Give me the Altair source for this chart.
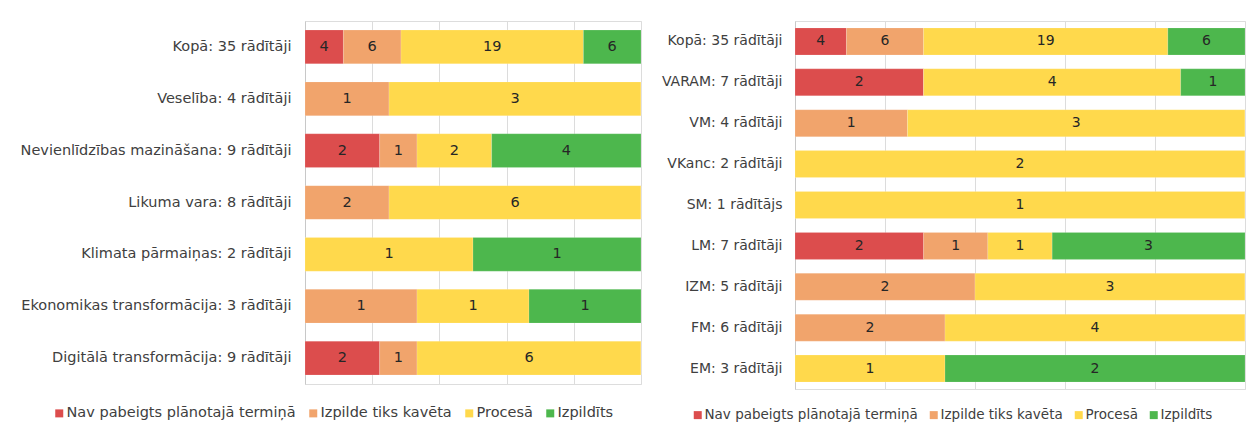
import altair as alt
import pandas as pd

statuses = ["Nav pabeigts plānotajā termiņā", "Izpilde tiks kavēta", "Procesā", "Izpildīts"]
colors = ["#DC4D4D", "#F1A46C", "#FFD94C", "#4DB74D"]

left_cats = ["Kopā: 35 rādītāji", "Veselība: 4 rādītāji", "Nevienlīdzības mazināšana: 9 rādītāji",
             "Likuma vara: 8 rādītāji", "Klimata pārmaiņas: 2 rādītāji",
             "Ekonomikas transformācija: 3 rādītāji", "Digitālā transformācija: 9 rādītāji"]
left_nav = [4, 0, 2, 0, 0, 0, 2]
left_kav = [6, 1, 1, 2, 0, 1, 1]
left_proc = [19, 3, 2, 6, 1, 1, 6]
left_izp = [6, 0, 4, 0, 1, 1, 0]

right_cats = ["Kopā: 35 rādītāji", "VARAM: 7 rādītāji", "VM: 4 rādītāji", "VKanc: 2 rādītāji",
              "SM: 1 rādītājs", "LM: 7 rādītāji", "IZM: 5 rādītāji", "FM: 6 rādītāji", "EM: 3 rādītāji"]
right_nav = [4, 2, 0, 0, 0, 2, 0, 0, 0]
right_kav = [6, 0, 1, 0, 0, 1, 2, 2, 0]
right_proc = [19, 4, 3, 2, 1, 1, 3, 4, 1]
right_izp = [6, 1, 0, 0, 0, 3, 0, 0, 2]

FONT = "DejaVu Sans"


def make_df(cats, series):
    rows = []
    for ci, c in enumerate(cats):
        for si, (s, vals) in enumerate(zip(statuses, series)):
            rows.append({"cat": c, "status": s, "order": si, "value": vals[ci]})
    return pd.DataFrame(rows)


def panel(cats, series, width, height, pad, axis_extent, label_size, legend_size,
          legend_x, legend_y, lpad, col_pad):
    df = make_df(cats, series)
    base = alt.Chart(df).transform_stack(
        stack="value", groupby=["cat"], as_=["x0", "x1"], offset="normalize",
        sort=[alt.SortField("order", order="ascending")]
    ).transform_calculate(mid="(datum.x0 + datum.x1) / 2")

    y = alt.Y("cat:N", sort=cats, title=None,
              scale=alt.Scale(paddingInner=pad, paddingOuter=pad / 2),
              axis=alt.Axis(ticks=False, domain=True, domainColor="#c8c8c8", labelFont=FONT,
                            labelFontSize=label_size, labelColor="#404040", labelPadding=lpad,
                            minExtent=axis_extent, maxExtent=axis_extent, labelLimit=400))
    bars = base.mark_bar(stroke="white", strokeWidth=0.5, strokeOpacity=0.3).encode(
        x=alt.X("x0:Q", scale=alt.Scale(domain=[0, 1], nice=False), title=None,
                axis=alt.Axis(labels=False, ticks=False, domain=False, grid=True,
                              gridColor="#dcdcdc", values=[0, 0.2, 0.4, 0.6, 0.8, 1.0])),
        x2="x1:Q",
        y=y,
        color=alt.Color("status:N", sort=statuses,
                        scale=alt.Scale(domain=statuses, range=colors),
                        legend=alt.Legend(title=None, orient="none", direction="horizontal",
                                          legendX=legend_x, legendY=legend_y,
                                          symbolType="square", symbolSize=64,
                                          symbolStrokeWidth=0, labelFont=FONT,
                                          labelFontSize=legend_size, labelColor="#404040",
                                          labelLimit=400, columnPadding=col_pad, symbolOffset=0,
                                          labelOffset=0, padding=0)),
    )
    texts = base.transform_filter("datum.value > 0").mark_text(
        font=FONT, fontSize=label_size, color="#262626"
    ).encode(
        x=alt.X("mid:Q"),
        y=alt.Y("cat:N", sort=cats),
        text=alt.Text("value:Q"),
    )
    return alt.layer(bars, texts).properties(width=width, height=height)


left = panel(left_cats, [left_nav, left_kav, left_proc, left_izp], 336, 363, 0.35, 296,
             14.5, 14.5, -253, 385, 14, 10)
right = panel(right_cats, [right_nav, right_kav, right_proc, right_izp], 450, 368, 0.34, 133,
              14, 13.5, -104, 387, 13, 9)

chart = alt.hconcat(left, right, spacing=18).resolve_legend(color="independent").resolve_scale(
    color="independent"
).properties(
    padding={"left": 0, "top": 12, "right": 0, "bottom": 0}
).configure_view(strokeWidth=0).configure(background="white")

chart.save("out.html", embed_options={"renderer": "svg", "actions": False})
